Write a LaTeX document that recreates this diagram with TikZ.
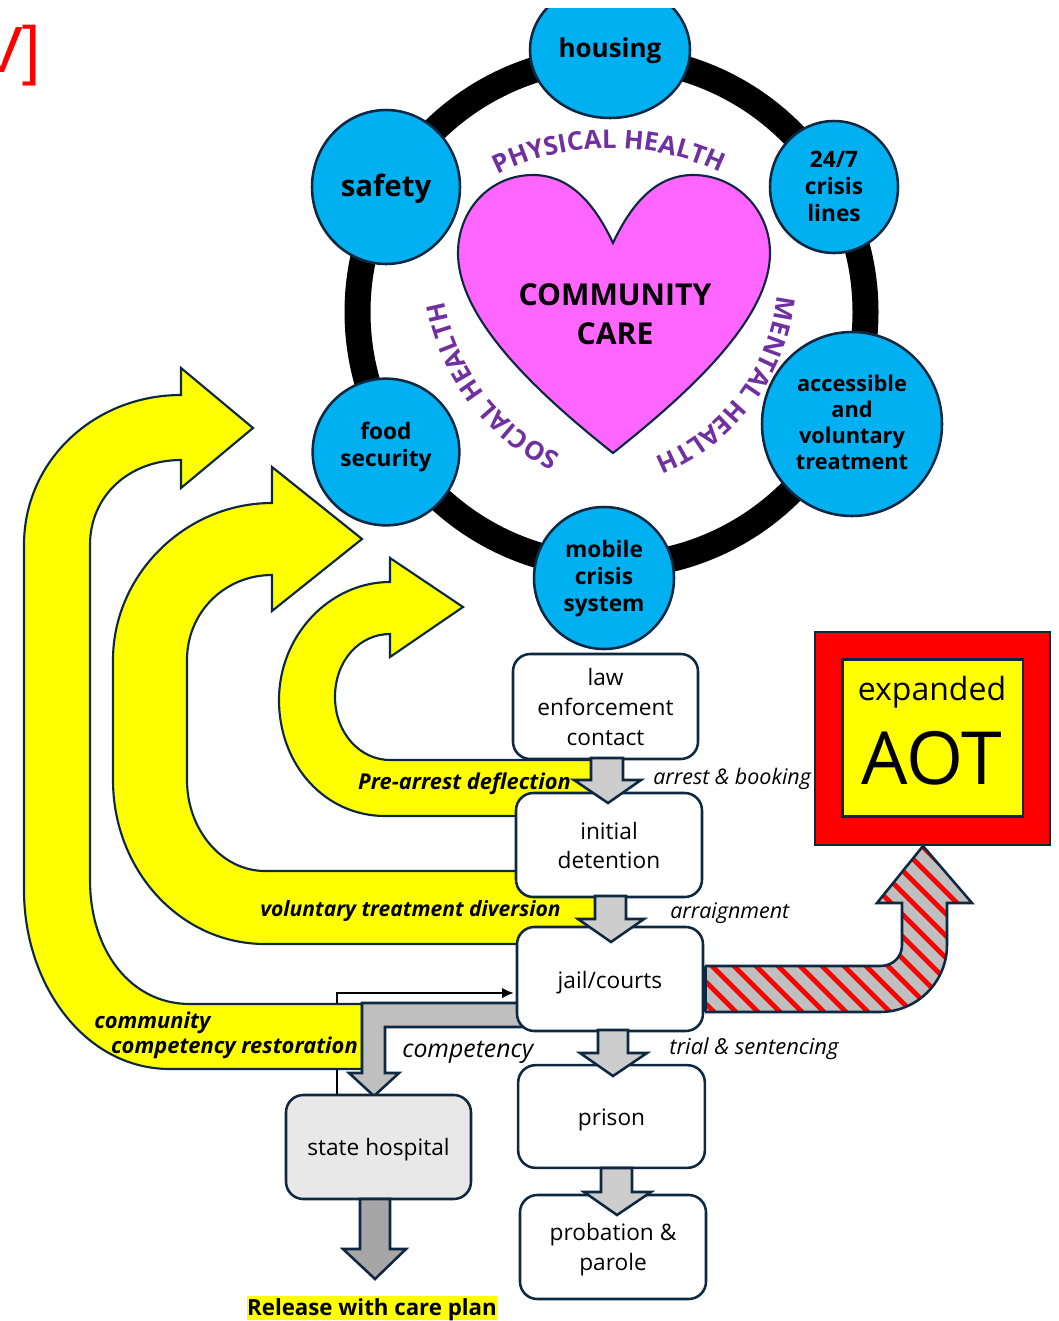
\documentclass[tikz,border=0pt]{standalone}
\usepackage{fontspec}
\setmainfont{Open Sans}
\newfontfamily\redfont{Liberation Sans}
\usetikzlibrary{shapes.geometric,arrows.meta,decorations.text}
\definecolor{edgeblue}{HTML}{0E2841}
\definecolor{bubble}{HTML}{00B0F0}
\definecolor{heartpink}{HTML}{FF66FF}
\definecolor{healthpurple}{HTML}{7030A0}
\definecolor{shaftgray}{HTML}{CDCDCD}
\definecolor{midgray}{HTML}{BFBFBF}
\definecolor{darkgray}{HTML}{A6A6A6}
\definecolor{pureyellow}{HTML}{FFFF00}
\definecolor{purered}{HTML}{FF0000}
\tikzset{
  bubblenode/.style={ellipse,draw=edgeblue,line width=1.9pt,fill=bubble,inner sep=0pt,align=center,font=\bfseries},
  stagebox/.style={draw=edgeblue,line width=1.9pt,fill=white,rounded corners=13pt,inner sep=0pt,align=center},
  flowarrow/.style={draw=edgeblue,line width=1.9pt,fill=shaftgray,line join=miter},
  returnarrow/.style={draw=edgeblue,line width=1.6pt,fill=pureyellow,line join=miter},
  pathlabel/.style={font=\fontsize{16.4}{20}\selectfont\bfseries\itshape,inner sep=0pt},
  steplabel/.style={font=\fontsize{16.1}{19}\selectfont\itshape,inner sep=0pt},
  boxtext/.style={font=\fontsize{17}{22.5}\selectfont}
}
\newcommand\nudge[2]{\raisebox{#1}[\height][\depth]{#2}}
\newcommand\healthtext[1]{|\fontsize{19.3}{22}\selectfont\bfseries\color{healthpurple}|#1}
\begin{document}
\begin{tikzpicture}[x=0.75pt,y=-0.75pt]
\useasboundingbox (0,0) rectangle (1059,1321);
\fill[white] (0,0) rectangle (1059,1321);
% red fragment
\begin{scope}
\clip (0,0) rectangle (1059,1321);
\node[anchor=east,inner sep=0pt,text=purered,font=\redfont\fontsize{49}{52}\selectfont] (frag) at (41,56) {V]};
\end{scope}
% ring
\node[circle,draw=black,line width=19.5pt,minimum size=381pt,inner sep=0pt] (ring) at (611.5,312) {};
% bubbles
\begin{scope}
\clip (0,8) rectangle (1059,400);
\node[bubblenode,minimum width=120pt,minimum height=102pt,font=\fontsize{19.5}{24}\selectfont\bfseries] (housing) at (610,50) {\nudge{-0.75pt}{housing}};
\end{scope}
\node[bubblenode,minimum width=111pt,minimum height=115.5pt,font=\fontsize{22}{26}\selectfont\bfseries] (safety) at (386,187) {\nudge{-1.5pt}{safety}};
\node[bubblenode,minimum width=96pt,minimum height=99pt,font=\fontsize{17}{20.2}\selectfont\bfseries] (lines) at (834,187) {\nudge{0.75pt}{24/7}\\\nudge{0.75pt}{crisis}\\\nudge{0.75pt}{lines}};
\node[bubblenode,minimum width=135pt,minimum height=138pt,font=\fontsize{16.3}{19.3}\selectfont\bfseries] (treat) at (852,424) {\nudge{1.2pt}{accessible}\\\nudge{1.2pt}{and}\\\nudge{1.2pt}{voluntary}\\\nudge{1.2pt}{treatment}};
\node[bubblenode,minimum width=110pt,minimum height=110pt,font=\fontsize{17}{20.3}\selectfont\bfseries] (food) at (386,452) {\nudge{3.75pt}{food}\\\nudge{3.75pt}{security}};
\node[bubblenode,minimum width=105pt,minimum height=106.5pt,font=\fontsize{17}{20.2}\selectfont\bfseries] (mobile) at (604,578) {\nudge{-0.75pt}{mobile}\\\nudge{-0.75pt}{crisis}\\\nudge{-0.75pt}{system}};
% heart
\draw[draw=edgeblue,line width=1.6pt,fill=heartpink,line join=miter]
  (613,243) .. controls (592,198) and (566,175) .. (533,175)
  .. controls (490,175) and (458,210) .. (458,253)
  .. controls (458,320) and (540,395) .. (613,453)
  .. controls (686,395) and (770,320) .. (770,253)
  .. controls (770,210) and (736,175) .. (693,175)
  .. controls (660,175) and (634,198) .. (613,243) -- cycle;
\node[inner sep=0pt,align=center,font=\fontsize{22.6}{29.3}\selectfont\bfseries] (care) at (615,313) {\nudge{-0.75pt}{COMMUNITY}\\\nudge{-0.75pt}{CARE}};
% curved labels
\path[decorate,decoration={text along path,text align=center,text={\healthtext{PHYSICAL HEALTH}}}]
  (495.7,175.7) .. controls (566.7,139.5) and (650.6,138.8) .. (722.3,173.7);
\path[decorate,decoration={text along path,text align=center,text={\healthtext{MENTAL HEALTH}}}]
  (777.2,297.1) .. controls (768.8,368.5) and (722.5,429.6) .. (656,457);
\path[decorate,decoration={text along path,text align=center,text={\healthtext{SOCIAL HEALTH}}}]
  (555.2,451.5) .. controls (499,422.5) and (458.8,369.8) .. (445.6,307.9);
% black return line
\coordinate (hospfoot) at (337,1095);
\coordinate (jailmark) at (514,993);
\draw[line width=1.9pt,-{Latex[length=9pt,width=8pt]}] (hospfoot) |- (jailmark);
% yellow arrows
\draw[returnarrow] (362,1069) -- (170,1069) .. controls (85,1069) and (24,985) .. (24,890)
  -- (24,545) .. controls (24,460) and (95,395) .. (181,395) -- (181,368) -- (253,428) -- (181,488) -- (181,460)
  .. controls (130,460) and (90,495) .. (90,545) -- (90,880) .. controls (90,950) and (130,1004) .. (190,1004)
  -- (362,1004) -- cycle;
\draw[returnarrow] (600,944) -- (265,944) .. controls (180,944) and (113,870) .. (113,780)
  -- (113,660) .. controls (113,575) and (185,503) .. (272,503) -- (272,467) -- (362,539) -- (272,611) -- (272,575)
  .. controls (225,575) and (187,612) .. (187,660) -- (187,780) .. controls (187,830) and (222,871) .. (265,871)
  -- (600,871) -- cycle;
\draw[returnarrow] (595,816) -- (385,816) .. controls (325,816) and (279,765) .. (279,700)
  .. controls (279,635) and (330,582) .. (390,582) -- (390,558) -- (463,607) -- (390,657) -- (390,634)
  .. controls (360,634) and (335,660) .. (335,697) .. controls (335,733) and (360,760) .. (390,760)
  -- (595,760) -- cycle;
% competency arrow
\draw[flowarrow,fill=midgray] (530,1003) -- (362,1003) -- (362,1073) -- (349,1073) -- (374,1096) -- (399,1073) -- (385,1073) -- (385,1027) -- (530,1027) -- cycle;
% stage boxes
\node[stagebox,boxtext,minimum width=138.75pt,minimum height=78.75pt] (law) at (605.5,706.5) {law\\enforcement\\contact};
\node[stagebox,boxtext,minimum width=139.5pt,minimum height=78pt] (initial) at (609,845) {\nudge{-0.4pt}{initial}\\detention};
\node[stagebox,boxtext,minimum width=139.5pt,minimum height=78pt] (jail) at (610,979) {\nudge{-3pt}{jail/courts}};
\node[stagebox,boxtext,minimum width=140pt,minimum height=77pt] (prison) at (611.5,1116.5) {\nudge{-2.25pt}{prison}};
\node[stagebox,boxtext,minimum width=139.5pt,minimum height=78pt] (probation) at (613,1247) {\nudge{-2.25pt}{probation \&}\\\nudge{-2.25pt}{parole}};
\node[stagebox,boxtext,fill=black!9,minimum width=138.75pt,minimum height=78pt] (hospital) at (378.5,1147) {\nudge{-2.25pt}{state hospital}};
% gray flow arrows
\draw[flowarrow] (591,758) -- (591,780) -- (574,780) -- (608,803) -- (641,780) -- (623,780) -- (623,758) -- cycle;
\draw[flowarrow] (595,896) -- (595,919) -- (578,919) -- (611,942) -- (644,919) -- (626,919) -- (626,896) -- cycle;
\draw[flowarrow] (598,1030) -- (598,1053) -- (580,1053) -- (613,1076) -- (647,1053) -- (628,1053) -- (628,1030) -- cycle;
\draw[flowarrow] (601,1168) -- (601,1192) -- (584,1192) -- (617,1215) -- (651,1192) -- (632,1192) -- (632,1168) -- cycle;
\draw[flowarrow,fill=darkgray] (360,1199) -- (360,1249) -- (343,1249) -- (375,1279) -- (406,1249) -- (390,1249) -- (390,1199) -- cycle;
% AOT
\node[rectangle,draw=edgeblue,line width=1.6pt,fill=purered,minimum width=176pt,minimum height=159.5pt,inner sep=0pt] (aotouter) at (932.5,738.5) {};
\node[rectangle,draw=edgeblue,line width=2pt,fill=pureyellow,minimum width=135.5pt,minimum height=118pt,inner sep=0pt] (aotinner) at (932.5,738) {};
\node[inner sep=0pt,font=\fontsize{24}{28}\selectfont] (expanded) at (932,692) {expanded};
\node[inner sep=0pt,font=\fontsize{55}{60}\selectfont] (aot) at (932,758) {AOT};
% hatched arrow
\begin{scope}
\path[clip] (705,966) -- (880,966) .. controls (893,966) and (902,957) .. (902,945) -- (902,903) -- (877,903) -- (923,846) -- (972,903) -- (947,903) -- (947,945) .. controls (947,982) and (917,1012) .. (880,1012) -- (705,1012) -- cycle;
\fill[midgray] (700,840) rectangle (980,1020);
\foreach \k in {0,...,21} {
  \draw[purered,line width=3.7pt] ({520+\k*22},840) -- ({700+\k*22},1020);
}
\end{scope}
\draw[draw=edgeblue,line width=1.9pt,line join=miter] (705,966) -- (880,966) .. controls (893,966) and (902,957) .. (902,945) -- (902,903) -- (877,903) -- (923,846) -- (972,903) -- (947,903) -- (947,945) .. controls (947,982) and (917,1012) .. (880,1012) -- (705,1012);
\draw[draw=edgeblue,line width=2.4pt] (705,966) -- (705,1012);
% labels
\node[pathlabel] (pre) at (464.5,784) {Pre-arrest deflection};
\node[pathlabel,font=\fontsize{15.8}{20}\selectfont\bfseries\itshape] (vol) at (410.5,911) {voluntary treatment diversion};
\node[pathlabel,anchor=west] (comm) at (94,1023) {community};
\node[pathlabel,anchor=east] (rest) at (358,1048) {competency restoration};
\node[steplabel,anchor=west] (arrest) at (653,779) {arrest \& booking};
\node[steplabel,anchor=west] (arraign) at (670,913) {arraignment};
\node[steplabel,anchor=west,font=\fontsize{16.5}{19}\selectfont\itshape] (trial) at (669,1049) {trial \& sentencing};
\node[steplabel,anchor=west,font=\fontsize{18.6}{22}\selectfont\itshape] (compet) at (402,1052) {competency};
\node[fill=pureyellow,inner sep=0pt,minimum width=187.5pt,minimum height=18.5pt,font=\fontsize{16.7}{20}\selectfont\bfseries] (release) at (372,1308) {\nudge{-1.5pt}{Release with care plan}};
\end{tikzpicture}
\end{document}
